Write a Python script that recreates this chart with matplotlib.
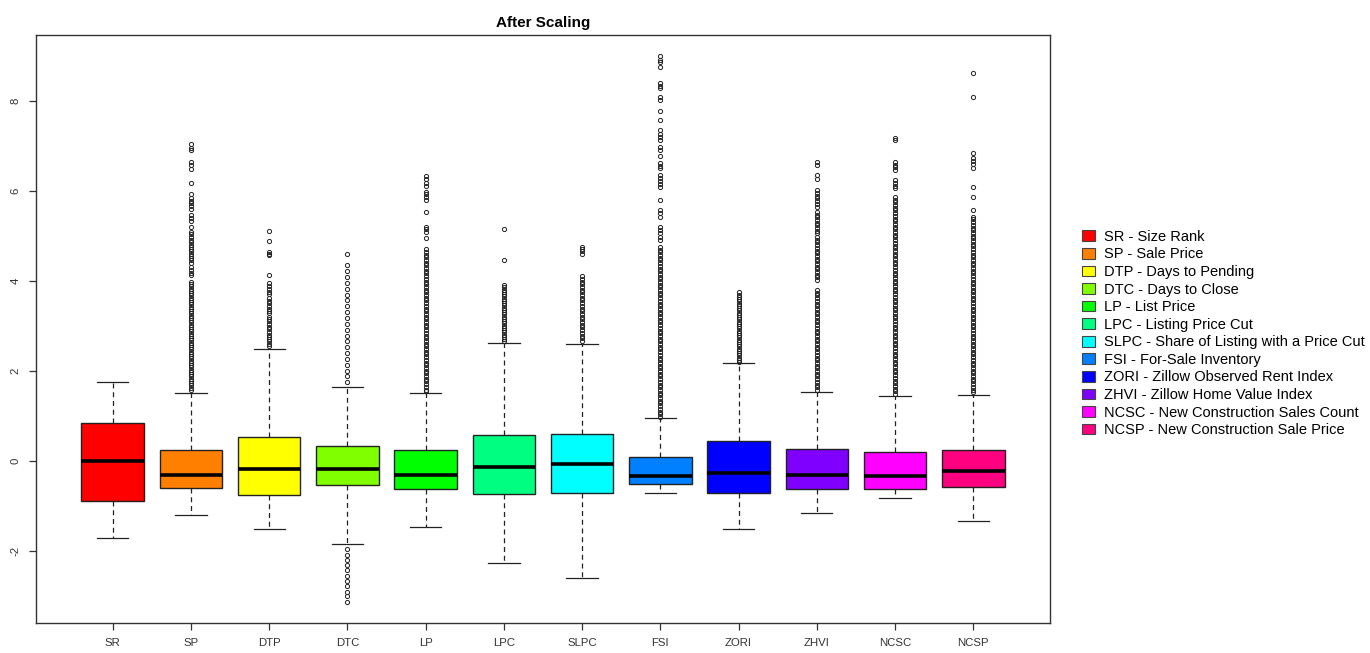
import matplotlib
matplotlib.use("Agg")
import matplotlib.pyplot as plt
from matplotlib.patches import Patch

plt.rcParams["font.family"] = ["Liberation Sans", "DejaVu Sans"]

# --- data ---
labels = ["SR", "SP", "DTP", "DTC", "LP", "LPC", "SLPC", "FSI", "ZORI", "ZHVI", "NCSC", "NCSP"]
legend_names = [
    "SR - Size Rank", "SP - Sale Price", "DTP - Days to Pending", "DTC - Days to Close",
    "LP - List Price", "LPC - Listing Price Cut", "SLPC - Share of Listing with a Price Cut",
    "FSI - For-Sale Inventory", "ZORI - Zillow Observed Rent Index", "ZHVI - Zillow Home Value Index",
    "NCSC - New Construction Sales Count", "NCSP - New Construction Sale Price",
]
colors = ["#FF0000", "#FF8000", "#FFFF00", "#80FF00", "#00FF00", "#00FF80",
          "#00FFFF", "#0080FF", "#0000FF", "#8000FF", "#FF00FF", "#FF0080"]

whis_lo = [-1.71, -1.20, -1.51, -1.86, -1.48, -2.27, -2.60, -0.71, -1.51, -1.17, -0.82, -1.35]
q1 = [-0.89, -0.61, -0.76, -0.55, -0.64, -0.74, -0.71, -0.52, -0.71, -0.62, -0.62, -0.59]
medians = [0.00, -0.31, -0.18, -0.18, -0.31, -0.14, -0.08, -0.35, -0.28, -0.31, -0.35, -0.23]
q3 = [0.83, 0.23, 0.53, 0.32, 0.23, 0.58, 0.60, 0.08, 0.43, 0.26, 0.20, 0.23]
whis_hi = [1.74, 1.51, 2.47, 1.63, 1.51, 2.62, 2.60, 0.94, 2.16, 1.53, 1.43, 1.45]

sr_out = []
sp_out = [7.03, 6.95, 6.90, 6.64, 6.58, 6.48, 6.16, 5.92, 5.84, 5.78, 5.72, 5.65, 5.60, 5.45,
          5.39, 5.33, 5.20, 5.08, 5.03, 4.97, 4.90, 4.85, 4.80, 4.75, 4.70, 4.65, 4.60, 4.55,
          4.50, 4.45, 4.40, 4.30, 4.24, 4.18, 4.12, 3.97, 3.92, 3.87, 3.82, 3.77, 3.72, 3.67,
          3.62, 3.57, 3.52, 3.47, 3.42, 3.37, 3.32, 3.27, 3.22, 3.17, 3.12, 3.07, 3.02, 2.97,
          2.92, 2.87, 2.82, 2.77, 2.72, 2.67, 2.62, 2.57, 2.52, 2.47, 2.42, 2.37, 2.32, 2.27,
          2.22, 2.17, 2.12, 2.07, 2.02, 1.97, 1.92, 1.87, 1.82, 1.77, 1.72, 1.67, 1.62, 1.57]
dtp_out = [5.11, 4.88, 4.64, 4.60, 4.57, 4.12, 3.94, 3.88, 3.82, 3.75, 3.70, 3.62, 3.55, 3.50,
           3.44, 3.38, 3.32, 3.27, 3.20, 3.15, 3.10, 3.04, 2.98, 2.92, 2.86, 2.80, 2.75, 2.70,
           2.65, 2.60, 2.55]
dtc_out = [4.59, 4.34, 4.21, 4.08, 3.95, 3.82, 3.69, 3.56, 3.43, 3.30, 3.17, 3.04, 2.91, 2.78,
           2.65, 2.52, 2.39, 2.26, 2.13, 2.00, 1.87, 1.75, -1.97, -2.09, -2.21, -2.32, -2.44,
           -2.56, -2.67, -2.79, -2.91, -3.02, -3.14]
lp_out = [6.33, 6.25, 6.17, 6.10, 5.97, 5.92, 5.86, 5.79, 5.52, 5.20, 5.14, 5.08, 4.94, 4.70,
          4.64, 4.58, 4.52, 4.46, 4.40, 4.34, 4.28, 4.22, 4.16, 4.10, 4.04, 3.98, 3.92, 3.86,
          3.80, 3.74, 3.68, 3.62, 3.56, 3.50, 3.44, 3.38, 3.32, 3.26, 3.20, 3.14, 3.08, 3.02,
          2.96, 2.90, 2.84, 2.78, 2.72, 2.66, 2.60, 2.54, 2.48, 2.42, 2.36, 2.30, 2.24, 2.18,
          2.12, 2.06, 2.00, 1.94, 1.88, 1.82, 1.76, 1.70, 1.64, 1.58, 1.54]
lpc_out = [5.14, 4.46, 3.90, 3.85, 3.80, 3.75, 3.70, 3.65, 3.60, 3.55, 3.50, 3.45, 3.40, 3.35,
           3.30, 3.25, 3.20, 3.15, 3.10, 3.05, 3.00, 2.95, 2.90, 2.85, 2.80, 2.75, 2.70, 2.66]
slpc_out = [4.75, 4.70, 4.65, 4.60, 4.10, 4.04, 3.98, 3.92, 3.86, 3.80, 3.74, 3.68, 3.62, 3.56,
            3.50, 3.44, 3.38, 3.32, 3.26, 3.20, 3.14, 3.08, 3.02, 2.96, 2.90, 2.84, 2.78, 2.72,
            2.66]
fsi_out = [8.99, 8.90, 8.85, 8.75, 8.39, 8.33, 8.28, 8.08, 8.01, 7.77, 7.57, 7.34, 7.27, 7.19,
           7.12, 6.97, 6.90, 6.77, 6.61, 6.55, 6.50, 6.34, 6.28, 6.22, 6.15, 6.08, 5.79, 5.57,
           5.50, 5.42, 5.20, 5.12, 5.05, 4.97, 4.90, 4.75, 4.69, 4.63, 4.57, 4.51, 4.45, 4.39,
           4.33, 4.27, 4.21, 4.15, 4.09, 4.03, 3.97, 3.91, 3.85, 3.79, 3.73, 3.67, 3.61, 3.55,
           3.49, 3.43, 3.37, 3.31, 3.25, 3.19, 3.13, 3.07, 3.01, 2.95, 2.89, 2.83, 2.77, 2.71,
           2.65, 2.59, 2.53, 2.47, 2.41, 2.35, 2.29, 2.23, 2.17, 2.11, 2.05, 1.99, 1.93, 1.87,
           1.81, 1.75, 1.69, 1.63, 1.57, 1.51, 1.45, 1.39, 1.33, 1.27, 1.21, 1.15, 1.09, 1.03,
           0.98]
zori_out = [3.74, 3.69, 3.64, 3.59, 3.54, 3.49, 3.44, 3.39, 3.34, 3.29, 3.24, 3.19, 3.14, 3.09,
            3.04, 2.99, 2.94, 2.89, 2.84, 2.79, 2.74, 2.69, 2.64, 2.59, 2.54, 2.49, 2.44, 2.39,
            2.34, 2.29, 2.24, 2.19]
zhvi_out = [6.64, 6.58, 6.34, 6.25, 6.01, 5.95, 5.89, 5.83, 5.77, 5.71, 5.64, 5.53, 5.47, 5.41,
            5.35, 5.29, 5.23, 5.17, 5.11, 5.05, 4.97, 4.91, 4.85, 4.79, 4.73, 4.67, 4.61, 4.55,
            4.49, 4.43, 4.37, 4.31, 4.25, 4.19, 4.13, 4.07, 4.01, 3.79, 3.73, 3.67, 3.61, 3.55,
            3.49, 3.43, 3.37, 3.31, 3.25, 3.19, 3.13, 3.07, 3.01, 2.95, 2.89, 2.83, 2.77, 2.71,
            2.65, 2.59, 2.53, 2.47, 2.41, 2.35, 2.29, 2.23, 2.17, 2.11, 2.05, 1.99, 1.93, 1.87,
            1.81, 1.75, 1.69, 1.63, 1.57]
ncsc_out = [7.16, 7.12, 6.64, 6.58, 6.52, 6.46, 6.23, 6.17, 6.11, 6.05, 5.86, 5.80, 5.74, 5.68,
            5.62, 5.56, 5.50, 5.44, 5.38, 5.32, 5.26, 5.20, 5.14, 5.08, 5.02, 4.96, 4.90, 4.84,
            4.78, 4.72, 4.66, 4.60, 4.54, 4.48, 4.42, 4.36, 4.30, 4.24, 4.18, 4.12, 4.06, 4.00,
            3.94, 3.88, 3.82, 3.76, 3.70, 3.64, 3.58, 3.52, 3.46, 3.40, 3.34, 3.28, 3.22, 3.16,
            3.10, 3.04, 2.98, 2.92, 2.86, 2.80, 2.74, 2.68, 2.62, 2.56, 2.50, 2.44, 2.38, 2.32,
            2.26, 2.20, 2.14, 2.08, 2.02, 1.96, 1.90, 1.84, 1.78, 1.72, 1.66, 1.60, 1.54, 1.47]
ncsp_out = [8.61, 8.09, 6.83, 6.72, 6.66, 6.60, 6.50, 6.08, 5.86, 5.57, 5.42, 5.36, 5.30, 5.24,
            5.18, 5.12, 5.06, 5.00, 4.94, 4.88, 4.82, 4.76, 4.70, 4.64, 4.58, 4.52, 4.46, 4.40,
            4.34, 4.28, 4.22, 4.16, 4.10, 4.04, 3.98, 3.92, 3.86, 3.80, 3.74, 3.68, 3.62, 3.56,
            3.50, 3.44, 3.38, 3.32, 3.26, 3.20, 3.14, 3.08, 3.02, 2.96, 2.90, 2.84, 2.78, 2.72,
            2.66, 2.60, 2.54, 2.48, 2.42, 2.36, 2.30, 2.24, 2.18, 2.12, 2.06, 2.00, 1.94, 1.88,
            1.82, 1.76, 1.70, 1.64, 1.58, 1.52]
outliers = [sr_out, sp_out, dtp_out, dtc_out, lp_out, lpc_out, slpc_out,
            fsi_out, zori_out, zhvi_out, ncsc_out, ncsp_out]

stats = []
for i, lab in enumerate(labels):
    stats.append({
        "label": lab, "whislo": whis_lo[i], "q1": q1[i], "med": medians[i],
        "q3": q3[i], "whishi": whis_hi[i], "fliers": outliers[i],
    })

fig = plt.figure(figsize=(13.7, 6.53), dpi=100)
ax = fig.add_axes([0.0263, 0.0459, 0.7401, 0.9005])

bp = ax.bxp(
    stats, positions=range(1, 13), widths=0.8, capwidths=0.4, patch_artist=True,
    boxprops=dict(edgecolor="#222222", linewidth=1.0),
    medianprops=dict(color="black", linewidth=2.6, solid_capstyle="butt"),
    whiskerprops=dict(color="#222222", linewidth=0.9, linestyle=(0, (4, 3))),
    capprops=dict(color="#222222", linewidth=0.9),
    flierprops=dict(marker="o", markersize=3.0, markerfacecolor="none",
                    markeredgecolor="#222222", markeredgewidth=0.7),
)
for patch, c in zip(bp["boxes"], colors):
    patch.set_facecolor(c)

ax.set_xlim(0.02, 12.98)
ax.set_ylim(-3.61, 9.46)
ax.set_yticks([-2, 0, 2, 4, 6, 8])
ax.set_yticklabels(["-2", "0", "2", "4", "6", "8"], rotation=90, va="center")
ax.tick_params(axis="both", direction="out", length=5, width=0.9, color="#333333",
               labelsize=8.2, labelcolor="#333333")
ax.tick_params(axis="x", pad=6)
ax.tick_params(axis="y", pad=6)
for sp in ax.spines.values():
    sp.set_color("#333333")
    sp.set_linewidth(1.0)

ax.set_title("After Scaling", fontsize=11, fontweight="bold", pad=6)

handles = [Patch(facecolor=c, edgecolor="#444444", linewidth=0.8) for c in colors]
fig.legend(handles, legend_names, loc="upper left", bbox_to_anchor=(0.79, 0.648),
           frameon=False, fontsize=10.5, handlelength=0.9, handleheight=0.75,
           handletextpad=0.6, labelspacing=0.245, borderpad=0, borderaxespad=0)

fig.savefig("out.png", dpi=100)
